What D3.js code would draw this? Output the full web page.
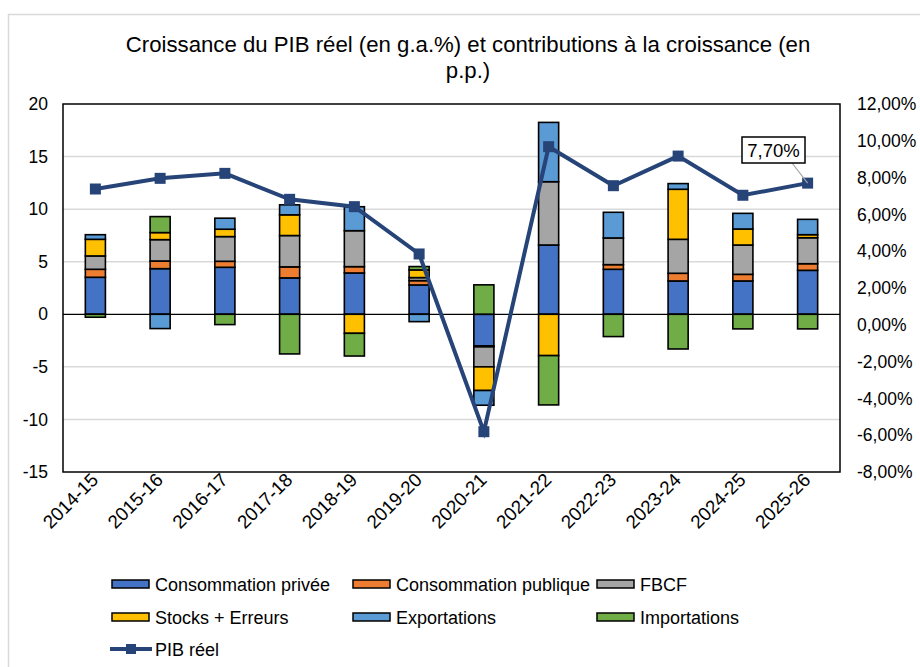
<!DOCTYPE html>
<html><head><meta charset="utf-8">
<script src="https://cdn.jsdelivr.net/npm/d3@7"></script>
<style>
body{margin:0;background:#fff;}
text{font-family:"Liberation Sans",Arial,sans-serif;fill:#000;}
</style></head>
<body><svg id="c" width="920" height="667"></svg>
<script>
const categories = ["2014-15","2015-16","2016-17","2017-18","2018-19","2019-20","2020-21","2021-22","2022-23","2023-24","2024-25","2025-26"];
const consoPrivee   = [3.52, 4.34, 4.47, 3.46, 3.93, 2.79, -3.00, 6.59, 4.28, 3.17, 3.17, 4.18];
const consoPublique = [0.76, 0.73, 0.57, 1.05, 0.60, 0.41, -0.10, 0.00, 0.44, 0.73, 0.63, 0.63];
const fbcf          = [1.27, 2.03, 2.35, 2.98, 3.42, 0.29, -1.90, 6.02, 2.54, 3.23, 2.79, 2.47];
const stocks        = [1.58, 0.67, 0.70, 1.97, -1.81, 0.73, -2.25, -3.93, 0.00, 4.76, 1.52, 0.29];
const exportations  = [0.44, -1.36, 1.05, 0.95, 2.28, -0.70, -1.40, 5.64, 2.44, 0.54, 1.49, 1.46];
const importations  = [-0.28, 1.52, -0.98, -3.77, -2.16, 0.32, 2.80, -4.69, -2.12, -3.30, -1.39, -1.39];
const pibReel       = [7.38, 7.96, 8.23, 6.82, 6.42, 3.85, -5.81, 9.68, 7.56, 9.17, 7.04, 7.70];
const leftTicks  = [-15,-10,-5,0,5,10,15,20];
const rightTicks = [-8,-6,-4,-2,0,2,4,6,8,10,12];
const seriesNames = ["Consommation privée","Consommation publique","FBCF","Stocks + Erreurs","Exportations","Importations"];
const seriesData = [consoPrivee, consoPublique, fbcf, stocks, exportations, importations];
const colors = ["#4472C4","#ED7D31","#A5A5A5","#FFC000","#5B9BD5","#70AD47"];
const lineColor = "#264478";

const svg = d3.select("#c");
const L=63, R=840, T=104, B=472;

// outer chart-area border
svg.append("rect").attr("x",8.5).attr("y",14.5).attr("width",940).attr("height",700)
  .attr("fill","none").attr("stroke","#d9d9d9").attr("stroke-width",1.5);

// title
svg.append("text").attr("x",468).attr("y",52).attr("text-anchor","middle").attr("font-size",22.2)
  .text("Croissance du PIB réel (en g.a.%) et contributions à la croissance (en");
svg.append("text").attr("x",468).attr("y",78).attr("text-anchor","middle").attr("font-size",22.2)
  .text("p.p.)");

const x = d3.scaleBand().domain(categories).range([L,R]).paddingInner(0.69).paddingOuter(0.345);
const y = d3.scaleLinear().domain([-15,20]).range([B,T]);
const y2 = d3.scaleLinear().domain([-8,12]).range([B,T]);

// gridlines
svg.append("g").selectAll("line").data(leftTicks.filter(t=>t!==0 && t!==-15 && t!==20)).join("line")
  .attr("x1",L).attr("x2",R).attr("y1",d=>y(d)).attr("y2",d=>y(d))
  .attr("stroke","#d9d9d9").attr("stroke-width",1.5);

// left axis
const ga = svg.append("g").attr("transform",`translate(${L},0)`)
  .call(d3.axisLeft(y).tickValues(leftTicks).tickSize(0).tickPadding(15).tickFormat(d=>String(d)));
ga.select(".domain").remove();
ga.selectAll("text").attr("font-size",17.5).style("font-family","Liberation Sans, Arial, sans-serif");

// right axis
const fmt = d => d.toFixed(2).replace(".",",")+"%";
const gr = svg.append("g").attr("transform",`translate(${R},0)`)
  .call(d3.axisRight(y2).tickValues(rightTicks).tickSize(0).tickPadding(17).tickFormat(fmt));
gr.select(".domain").remove();
gr.selectAll("text").attr("font-size",17.5).style("font-family","Liberation Sans, Arial, sans-serif");

// bars
const table = categories.map((c,i)=>{const o={cat:c}; seriesNames.forEach((s,j)=>o[s]=seriesData[j][i]); return o;});
const stack = d3.stack().keys(seriesNames).offset(d3.stackOffsetDiverging)(table);
svg.append("g").selectAll("g").data(stack).join("g").attr("fill",(d,i)=>colors[i])
  .selectAll("rect").data(d=>d.filter(p=>p[1]!==p[0])).join("rect")
  .attr("x",d=>x(d.data.cat)).attr("width",x.bandwidth())
  .attr("y",d=>y(Math.max(d[0],d[1]))).attr("height",d=>Math.abs(y(d[0])-y(d[1])))
  .attr("stroke","#000").attr("stroke-width",1.6);

// zero line
svg.append("line").attr("x1",L).attr("x2",R).attr("y1",y(0)).attr("y2",y(0)).attr("stroke","#000").attr("stroke-width",1.2);
// plot border
svg.append("rect").attr("x",L).attr("y",T).attr("width",R-L).attr("height",B-T)
  .attr("fill","none").attr("stroke","#000").attr("stroke-width",1.5);

// line
const cx = c => x(c)+x.bandwidth()/2;
svg.append("path").datum(pibReel).attr("fill","none").attr("stroke",lineColor).attr("stroke-width",4)
  .attr("d",d3.line().x((d,i)=>cx(categories[i])).y(d=>y2(d)));
svg.append("g").selectAll("rect").data(pibReel).join("rect")
  .attr("x",(d,i)=>cx(categories[i])-5.5).attr("y",d=>y2(d)-5.5).attr("width",11).attr("height",11)
  .attr("fill",lineColor);

// annotation
const lastI = categories.length-1;
const px = cx(categories[lastI]), py = y2(pibReel[lastI]);
svg.append("line").attr("x1",px).attr("y1",py).attr("x2",792).attr("y2",163).attr("stroke","#a5a5a5").attr("stroke-width",1.2);
svg.append("rect").attr("x",742).attr("y",137).attr("width",63).attr("height",26).attr("fill","#fff").attr("stroke","#000").attr("stroke-width",1.5);
svg.append("text").attr("x",773.5).attr("y",157).attr("text-anchor","middle").attr("font-size",18.5).text(fmt(pibReel[lastI]));

// x labels
svg.append("g").selectAll("text").data(categories).join("text")
  .attr("font-size",18.8).attr("text-anchor","end")
  .attr("transform",d=>`translate(${cx(d)+4},${B+9}) rotate(-45)`).text(d=>d);

// legend
const legPos = [[112,584],[353,584],[597,584],[112,617],[353,617],[597,617]];
seriesNames.forEach((s,i)=>{
  const [lx,ly]=legPos[i];
  svg.append("rect").attr("x",lx).attr("y",ly-4).attr("width",37).attr("height",8).attr("fill",colors[i]).attr("stroke","#000").attr("stroke-width",1.5);
  svg.append("text").attr("x",lx+43).attr("y",ly+6.5).attr("font-size",18).text(s);
});
svg.append("line").attr("x1",110).attr("x2",152).attr("y1",649).attr("y2",649).attr("stroke",lineColor).attr("stroke-width",4);
svg.append("rect").attr("x",126).attr("y",644).attr("width",10).attr("height",10).attr("fill",lineColor);
svg.append("text").attr("x",155).attr("y",655.5).attr("font-size",18).text("PIB réel");
</script></body></html>
